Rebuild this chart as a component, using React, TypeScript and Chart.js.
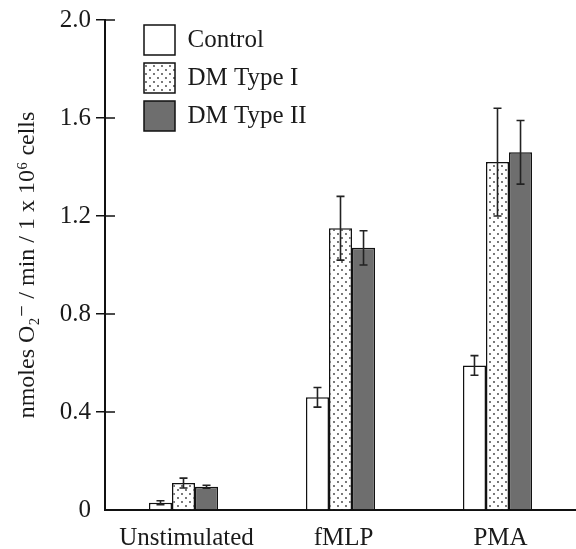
import React, { useEffect, useRef } from 'react';
import { Chart, registerables } from 'chart.js';

Chart.register(...registerables);

const categories = ['Unstimulated', 'fMLP', 'PMA'];
const seriesNames = ['Control', 'DM Type I', 'DM Type II'];
const controlValues = [0.03, 0.46, 0.59];
const controlErrors = [0.008, 0.04, 0.04];
const dmType1Values = [0.11, 1.15, 1.42];
const dmType1Errors = [0.02, 0.13, 0.22];
const dmType2Values = [0.095, 1.07, 1.46];
const dmType2Errors = [0.006, 0.07, 0.13];
const yMin = 0;
const yMax = 2.0;
const yStep = 0.4;
const yTitle = 'nmoles O\u2082\u207B / min / 1 x 10\u2076 cells';

const FONT = "'Liberation Serif', 'DejaVu Serif', 'Times New Roman', serif";

function makeDotPattern(): CanvasPattern | string {
  const c = document.createElement('canvas');
  c.width = 8;
  c.height = 8;
  const g = c.getContext('2d');
  if (!g) return '#eee';
  g.fillStyle = '#ffffff';
  g.fillRect(0, 0, 8, 8);
  g.fillStyle = '#3a3a3a';
  [[2, 2], [6, 6]].forEach(([x, y]) => {
    g.beginPath();
    g.arc(x, y, 0.9, 0, Math.PI * 2);
    g.fill();
  });
  return g.createPattern(c, 'repeat') || '#eee';
}

const extras = {
  id: 'extras',
  afterLayout(chart: any) {
    const lg = chart.legend;
    if (lg) {
      lg.left = chart.chartArea.left + 31;
      lg.top = chart.chartArea.top - 3;
    }
  },
  afterDatasetsDraw(chart: any) {
    const ctx = chart.ctx;
    const ys = chart.scales.y;
    chart.data.datasets.forEach((ds: any, di: number) => {
      const meta = chart.getDatasetMeta(di);
      meta.data.forEach((bar: any, i: number) => {
        const v = ds.data[i];
        const e = ds.errors[i];
        const top = ys.getPixelForValue(v + e);
        const bot = ys.getPixelForValue(v - e);
        ctx.save();
        ctx.strokeStyle = '#222';
        ctx.lineWidth = 1.6;
        ctx.beginPath();
        ctx.moveTo(bar.x, top);
        ctx.lineTo(bar.x, bot);
        ctx.moveTo(bar.x - 4, top);
        ctx.lineTo(bar.x + 4, top);
        ctx.moveTo(bar.x - 4, bot);
        ctx.lineTo(bar.x + 4, bot);
        ctx.stroke();
        ctx.restore();
      });
    });
  },
  afterDraw(chart: any) {
    const ctx = chart.ctx;
    const ys = chart.scales.y;
    const left = chart.chartArea.left;
    ctx.save();
    ctx.strokeStyle = '#111';
    ctx.lineWidth = 1.5;
    ys.ticks.forEach((t: any) => {
      if (t.value === 0) return;
      const py = ys.getPixelForValue(t.value);
      ctx.beginPath();
      ctx.moveTo(left, py);
      ctx.lineTo(left + 10, py);
      ctx.stroke();
    });
    ctx.restore();
  },
};

export default function App() {
  const ref = useRef<HTMLCanvasElement | null>(null);

  useEffect(() => {
    if (!ref.current) return;
    const dots = makeDotPattern();
    const chart = new Chart(ref.current, {
      type: 'bar',
      data: {
        labels: categories,
        datasets: [
          {
            label: seriesNames[0],
            data: controlValues,
            errors: controlErrors,
            backgroundColor: '#ffffff',
            borderColor: '#111111',
            borderWidth: 1.5,
          } as any,
          {
            label: seriesNames[1],
            data: dmType1Values,
            errors: dmType1Errors,
            backgroundColor: dots,
            borderColor: '#111111',
            borderWidth: 1.5,
          } as any,
          {
            label: seriesNames[2],
            data: dmType2Values,
            errors: dmType2Errors,
            backgroundColor: '#6e6e6e',
            borderColor: '#111111',
            borderWidth: 1.5,
          } as any,
        ],
      },
      options: {
        responsive: false,
        animation: false,
        layout: { padding: { top: 20, right: -11, left: 0, bottom: 0 } },
        datasets: { bar: { categoryPercentage: 0.44, barPercentage: 1.0 } },
        plugins: {
          tooltip: { enabled: false },
          legend: {
            position: 'chartArea' as any,
            align: 'start',
            labels: {
              boxWidth: 31,
              boxHeight: 30,
              padding: 8,
              color: '#1a1a1a',
              font: { family: FONT, size: 25 },
            },
          },
        },
        scales: {
          x: {
            grid: { display: false },
            border: { display: true, color: '#111', width: 2 },
            ticks: { color: '#1a1a1a', padding: 5, labelOffset: 3, font: { family: FONT, size: 25 } },
            afterFit: (s: any) => { s.height = 39; },
          },
          y: {
            min: yMin,
            max: yMax,
            grid: {
              drawOnChartArea: false,
              drawTicks: true,
              tickLength: 9,
              lineWidth: 1.5,
              color: (c: any) => (c.tick && c.tick.value === 0 ? 'rgba(0,0,0,0)' : '#111'),
            },
            border: { display: true, color: '#111', width: 2 },
            ticks: {
              stepSize: yStep,
              color: '#1a1a1a',
              padding: 5,
              font: { family: FONT, size: 25 },
              callback: (v: any) => (Number(v) === 0 ? '0' : Number(v).toFixed(1)),
            },
            title: {
              display: true,
              text: yTitle,
              color: '#1a1a1a',
              padding: { top: 13, bottom: 0 },
              font: { family: FONT, size: 24 },
            },
            afterFit: (s: any) => { s.width = 105; },
          },
        },
      },
      plugins: [extras],
    } as any);
    return () => chart.destroy();
  }, []);

  return (
    <div style={{ position: 'absolute', left: 0, top: 0, width: 576, height: 549, background: '#fff' }}>
      <canvas ref={ref} width={576} height={549} style={{ display: 'block' }} />
    </div>
  );
}
